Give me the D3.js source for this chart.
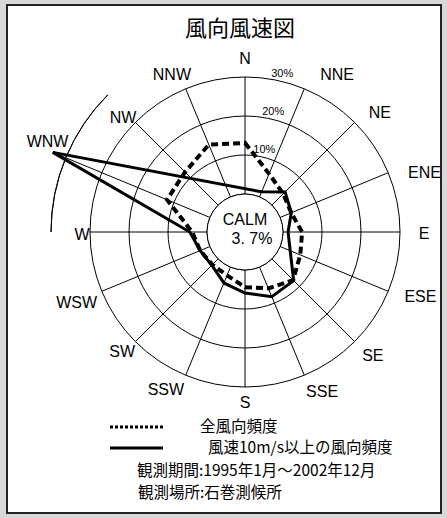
<!DOCTYPE html>
<html>
<head>
<meta charset="utf-8">
<script src="https://cdn.jsdelivr.net/npm/d3@7"></script>
<style>
  body { margin: 0; background: #d8d8d8; }
  svg { display: block; }
</style>
</head>
<body>
<div id="chart"></div>
<script>
// 16 directions, clockwise from N
var directions = ["N","NNE","NE","ENE","E","ESE","SE","SSE","S","SSW","SW","WSW","W","WNW","NW","NNW"];
// 全風向頻度 (%)
var allFreq = [13.1, 6.4, 4.1, 3.1, 4.9, 5.6, 7.7, 5.9, 4.4, 2.3, 2.1, 2.7, 3.8, 11.9, 12.0, 14.5];
// 風速10m/s以上の風向頻度 (%) ; 0 = not drawn
var strongFreq = [0, 1.4, 4.8, 3.1, 1.3, 2.8, 7.9, 8.2, 5.9, 4.4, 2.3, 2.7, 4.4, 43.6, 0, 0];
var ringTicks = [10, 20, 30];
var calmValue = "3. 7%";

var width = 447, height = 518;
var cx = 245, cy = 232;

// label nudges so they sit like the original
var labelNudge = {
  N:[0,4], NNE:[24,7], NE:[9,6], ENE:[15,9], E:[1,1], ESE:[11,-4], SE:[2,-2], SSE:[9,-5],
  S:[0,-8], SSW:[-11,-7], SW:[3,-6], WSW:[-4,2], W:[15,2], WNW:[-33,-22], NW:[4,11], NNW:[-5,7]
};

var svg = d3.select("#chart").append("svg")
    .attr("width", width)
    .attr("height", height);

svg.append("rect")
    .attr("x", 7).attr("y", 5)
    .attr("width", 434).attr("height", 508)
    .attr("fill", "#fff")
    .attr("stroke", "#222")
    .attr("stroke-width", 2);

svg.append("text")
    .attr("x", 240).attr("y", 36)
    .attr("text-anchor", "middle")
    .style("font-family", "'Noto Sans CJK JP'")
    .style("font-size", "22px")
    .text("風向風速図");

var r = d3.scaleLinear().domain([0, 30]).range([38, 155]);
var ang = d3.scaleLinear().domain([0, 16]).range([0, 2 * Math.PI]);

var g = svg.append("g").attr("transform", "translate(" + cx + "," + cy + ")");

// rings
g.selectAll("circle.ring")
    .data([0].concat(ringTicks))
  .enter().append("circle")
    .attr("class", "ring")
    .attr("r", function(d){ return r(d); })
    .attr("fill", "none")
    .attr("stroke", "#000")
    .attr("stroke-width", 1);

// partial 40% arc from W to NW
g.append("path")
    .attr("d", d3.arc()({innerRadius: r(40), outerRadius: r(40), startAngle: ang(12), endAngle: ang(14)}))
    .attr("fill", "none")
    .attr("stroke", "#000")
    .attr("stroke-width", 1);

// spokes (extended when value beyond outer ring)
g.selectAll("line.spoke")
    .data(directions)
  .enter().append("line")
    .attr("class", "spoke")
    .each(function(d, i){
      var a = ang(i);
      var outer = r(Math.max(30, strongFreq[i]));
      d3.select(this)
        .attr("x1", Math.sin(a) * r(0)).attr("y1", -Math.cos(a) * r(0))
        .attr("x2", Math.sin(a) * outer).attr("y2", -Math.cos(a) * outer);
    })
    .attr("stroke", "#000")
    .attr("stroke-width", 1);

// direction labels
g.selectAll("text.dir")
    .data(directions)
  .enter().append("text")
    .attr("class", "dir")
    .attr("x", function(d, i){ return Math.sin(ang(i)) * 178 + labelNudge[d][0]; })
    .attr("y", function(d, i){ return -Math.cos(ang(i)) * 178 + labelNudge[d][1]; })
    .attr("dy", "0.35em")
    .attr("text-anchor", "middle")
    .style("font-family", "'Liberation Sans', Arial")
    .style("font-size", "16px")
    .text(function(d){ return d; });

// ring labels
g.selectAll("text.tick")
    .data(ringTicks)
  .enter().append("text")
    .attr("class", "tick")
    .attr("x", function(d){ return Math.sin(0.23) * (r(d) + 8); })
    .attr("y", function(d){ return -Math.cos(0.23) * (r(d) + 8); })
    .attr("dy", "0.35em")
    .attr("text-anchor", "middle")
    .style("font-family", "'Liberation Sans Narrow', 'Liberation Sans'")
    .style("font-size", "11px")
    .text(function(d){ return d + "%"; });

var line = d3.lineRadial()
    .angle(function(d){ return ang(d.i); })
    .radius(function(d){ return r(d.v); })
    .curve(d3.curveLinearClosed);

var allPts = allFreq.map(function(v, i){ return {i: i, v: v}; });
var strongPts = strongFreq.map(function(v, i){ return {i: i, v: v}; })
    .filter(function(d){ return d.v > 0; });

g.append("path")
    .attr("d", line(strongPts))
    .attr("fill", "none")
    .attr("stroke", "#000")
    .attr("stroke-width", 3)
    .attr("stroke-linejoin", "miter");

g.append("path")
    .attr("d", line(allPts))
    .attr("fill", "none")
    .attr("stroke", "#000")
    .attr("stroke-width", 4)
    .attr("stroke-dasharray", "7,4");

// calm circle on top
g.append("circle")
    .attr("r", r(0))
    .attr("fill", "#fff")
    .attr("stroke", "#000")
    .attr("stroke-width", 1);

g.append("text")
    .attr("x", 0).attr("y", -7)
    .attr("text-anchor", "middle")
    .style("font-family", "'Liberation Sans', Arial")
    .style("font-size", "16px")
    .text("CALM");
g.append("text")
    .attr("x", 7).attr("y", 12)
    .attr("text-anchor", "middle")
    .style("font-family", "'Liberation Sans', Arial")
    .style("font-size", "16px")
    .text(calmValue);

// legend
svg.append("line")
    .attr("x1", 110).attr("x2", 163).attr("y1", 427).attr("y2", 427)
    .attr("stroke", "#000").attr("stroke-width", 3)
    .attr("stroke-dasharray", "3,2");
svg.append("line")
    .attr("x1", 110).attr("x2", 163).attr("y1", 448).attr("y2", 448)
    .attr("stroke", "#000").attr("stroke-width", 3);

var legendText = [
  {x: 200, y: 427, t: "全風向頻度"},
  {x: 208, y: 448, t: "風速10m/s以上の風向頻度"},
  {x: 137, y: 471, t: "観測期間:1995年1月～2002年12月"},
  {x: 138, y: 493, t: "観測場所:石巻測候所"}
];
svg.selectAll("text.leg")
    .data(legendText)
  .enter().append("text")
    .attr("class", "leg")
    .attr("x", function(d){ return d.x; })
    .attr("y", function(d){ return d.y; })
    .attr("dy", "0.35em")
    .style("font-family", "'Noto Sans CJK JP'")
    .style("font-size", "15.5px")
    .text(function(d){ return d.t; });
</script>
</body>
</html>
